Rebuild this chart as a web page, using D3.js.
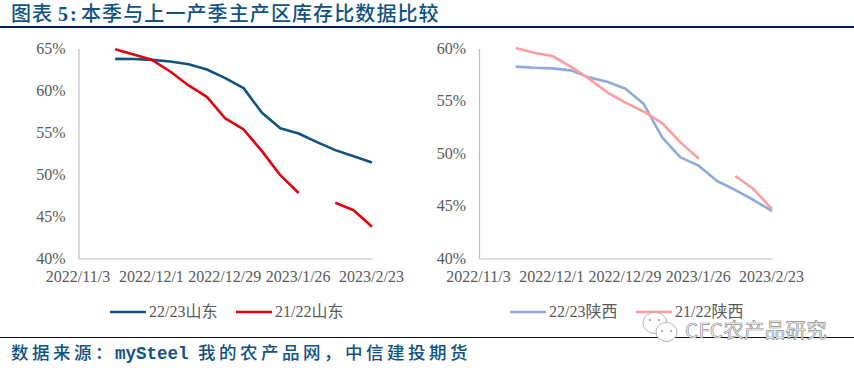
<!DOCTYPE html>
<html>
<head>
<meta charset="utf-8">
<script src="https://cdn.jsdelivr.net/npm/d3@7"></script>
<style>
html, body { margin: 0; padding: 0; background: #fff; }
svg { display: block; }
.tick-label { font-family: "Liberation Serif", serif; font-size: 16px; fill: #595959; }
.legend-label { font-family: "Liberation Serif", "Noto Sans CJK SC", serif; font-size: 16px; fill: #595959; }
</style>
</head>
<body>
<svg id="chart" width="854" height="368"></svg>
<script>
// weekly dates, the first two have no data
var weeks = ["2022/11/3","2022/11/10","2022/11/17","2022/11/24","2022/12/1","2022/12/8","2022/12/15","2022/12/22","2022/12/29","2023/1/5","2023/1/12","2023/1/19","2023/1/26","2023/2/2","2023/2/9","2023/2/16","2023/2/23"];
var tickWeeks = ["2022/11/3","2022/12/1","2022/12/29","2023/1/26","2023/2/23"];

var shandong2223 = [null,null,63.77,63.75,63.65,63.45,63.13,62.5,61.47,60.28,57.34,55.52,54.88,53.85,52.9,52.18,51.43];
var shandong2122 = [null,null,64.92,64.29,63.65,62.26,60.6,59.25,56.67,55.36,52.78,49.92,47.8,null,46.63,45.75,43.77];
var shaanxi2223 = [null,null,58.27,58.17,58.11,57.92,57.25,56.84,56.17,54.71,51.54,49.63,48.84,47.38,46.52,45.57,44.52];
var shaanxi2122 = [null,null,60.05,59.6,59.29,58.27,57.13,55.83,54.84,53.98,52.9,51.06,49.5,null,47.86,46.59,44.71];

var leftTicks = [40,45,50,55,60,65];
var rightTicks = [40,45,50,55,60];

var svg = d3.select("#chart");
var cjk = "'Noto Sans CJK SC', sans-serif";

// heading
var title = svg.append("text").attr("y", 20.5)
    .style("font-family", cjk).style("font-size", "20px").style("font-weight", 500).style("fill", "#0f5286");
title.append("tspan").attr("x", 11).style("letter-spacing", "1px").text("图表");
title.append("tspan").attr("x", 58).style("font-family", "'Liberation Serif', serif").style("font-weight", 700).style("letter-spacing", "2px").text("5:");
title.append("tspan").attr("x", 81).style("letter-spacing", "1.1px").text("本季与上一产季主产区库存比数据比较");
svg.append("rect").attr("x", 0).attr("y", 26).attr("width", 854).attr("height", 2).attr("fill", "#002060");

function drawPanel(cfg) {
    var x = d3.scalePoint().domain(weeks).range(cfg.xRange);
    var y = d3.scaleLinear().domain(cfg.yDomain).range([258.5, 48.5]);
    var g = svg.append("g");

    var yAxis = g.append("g")
        .attr("transform", "translate(" + cfg.xRange[0] + ",0)")
        .call(d3.axisLeft(y).tickValues(cfg.yTicks).tickSize(0).tickPadding(13).tickFormat(function(d) { return d + "%"; }));
    yAxis.selectAll("text").attr("class", "tick-label").attr("fill", null).attr("dy", "0.3em");
    yAxis.select(".domain").attr("stroke", "#bfbfbf").attr("stroke-width", 1.2);

    var xAxis = g.append("g")
        .attr("transform", "translate(0,258.5)")
        .call(d3.axisBottom(x).tickValues(tickWeeks).tickSize(0).tickPadding(12));
    xAxis.selectAll("text").attr("class", "tick-label").attr("fill", null).attr("dx", "-1");
    xAxis.select(".domain").attr("stroke", "#bfbfbf").attr("stroke-width", 1.2);

    var line = d3.line()
        .defined(function(d) { return d !== null; })
        .x(function(d, i) { return x(weeks[i]); })
        .y(function(d) { return y(d); });

    cfg.series.forEach(function(s) {
        g.append("path").datum(s.values)
            .attr("fill", "none")
            .attr("stroke", s.color)
            .attr("stroke-width", 2.6)
            .attr("stroke-linejoin", "round")
            .attr("d", line);
    });

    // legend
    cfg.series.forEach(function(s) {
        g.append("line").attr("x1", s.lx).attr("x2", s.lx + 36).attr("y1", 312).attr("y2", 312)
            .attr("stroke", s.color).attr("stroke-width", 2.6);
        g.append("text").attr("class", "legend-label").attr("x", s.lx + 39).attr("y", 317).text(s.name);
    });
}

drawPanel({
    xRange: [78.5, 372],
    yDomain: [40, 65],
    yTicks: leftTicks,
    series: [
        { name: "22/23山东", values: shandong2223, color: "#0f5382", lx: 110 },
        { name: "21/22山东", values: shandong2122, color: "#e3000f", lx: 236 }
    ]
});
drawPanel({
    xRange: [479, 772],
    yDomain: [40, 60],
    yTicks: rightTicks,
    series: [
        { name: "22/23陕西", values: shaanxi2223, color: "#8eaadb", lx: 510 },
        { name: "21/22陕西", values: shaanxi2122, color: "#ff9c9f", lx: 636 }
    ]
});

// source line
svg.append("rect").attr("x", 0).attr("y", 337).attr("width", 854).attr("height", 1).attr("fill", "#111");
var source = svg.append("text").attr("y", 359)
    .style("font-family", cjk).style("font-size", "17.5px").style("font-weight", 500).style("fill", "#0f5286");
source.append("tspan").attr("x", 11).style("letter-spacing", "3.5px").text("数据来源：");
source.append("tspan").attr("x", 115).style("font-family", "'Liberation Mono', monospace").style("font-weight", 700).text("mySteel");
source.append("tspan").attr("x", 198).style("letter-spacing", "3.5px").text("我的农产品网，中信建投期货");

// watermark
var bubble = svg.append("g").attr("fill", "#fff").attr("stroke", "#b5b5b5").attr("stroke-width", 1);
bubble.append("ellipse").attr("cx", 655).attr("cy", 323).attr("rx", 12).attr("ry", 10.5);
bubble.append("ellipse").attr("cx", 666.5).attr("cy", 332).attr("rx", 10.5).attr("ry", 9.5);
bubble.selectAll("circle.eye")
    .data([[650,320],[659,320],[662,331],[671,331]])
    .enter().append("circle").attr("class", "eye")
    .attr("cx", function(d) { return d[0]; }).attr("cy", function(d) { return d[1]; })
    .attr("r", 1).attr("fill", "#999").attr("stroke", "none");
svg.append("text").attr("x", 685).attr("y", 338)
    .style("font-family", cjk).style("font-size", "20.5px").style("letter-spacing", "0.3px")
    .style("fill", "#fff").style("stroke", "#8c8c8c").style("stroke-width", 0.7)
    .text("CFC农产品研究");
</script>
</body>
</html>
